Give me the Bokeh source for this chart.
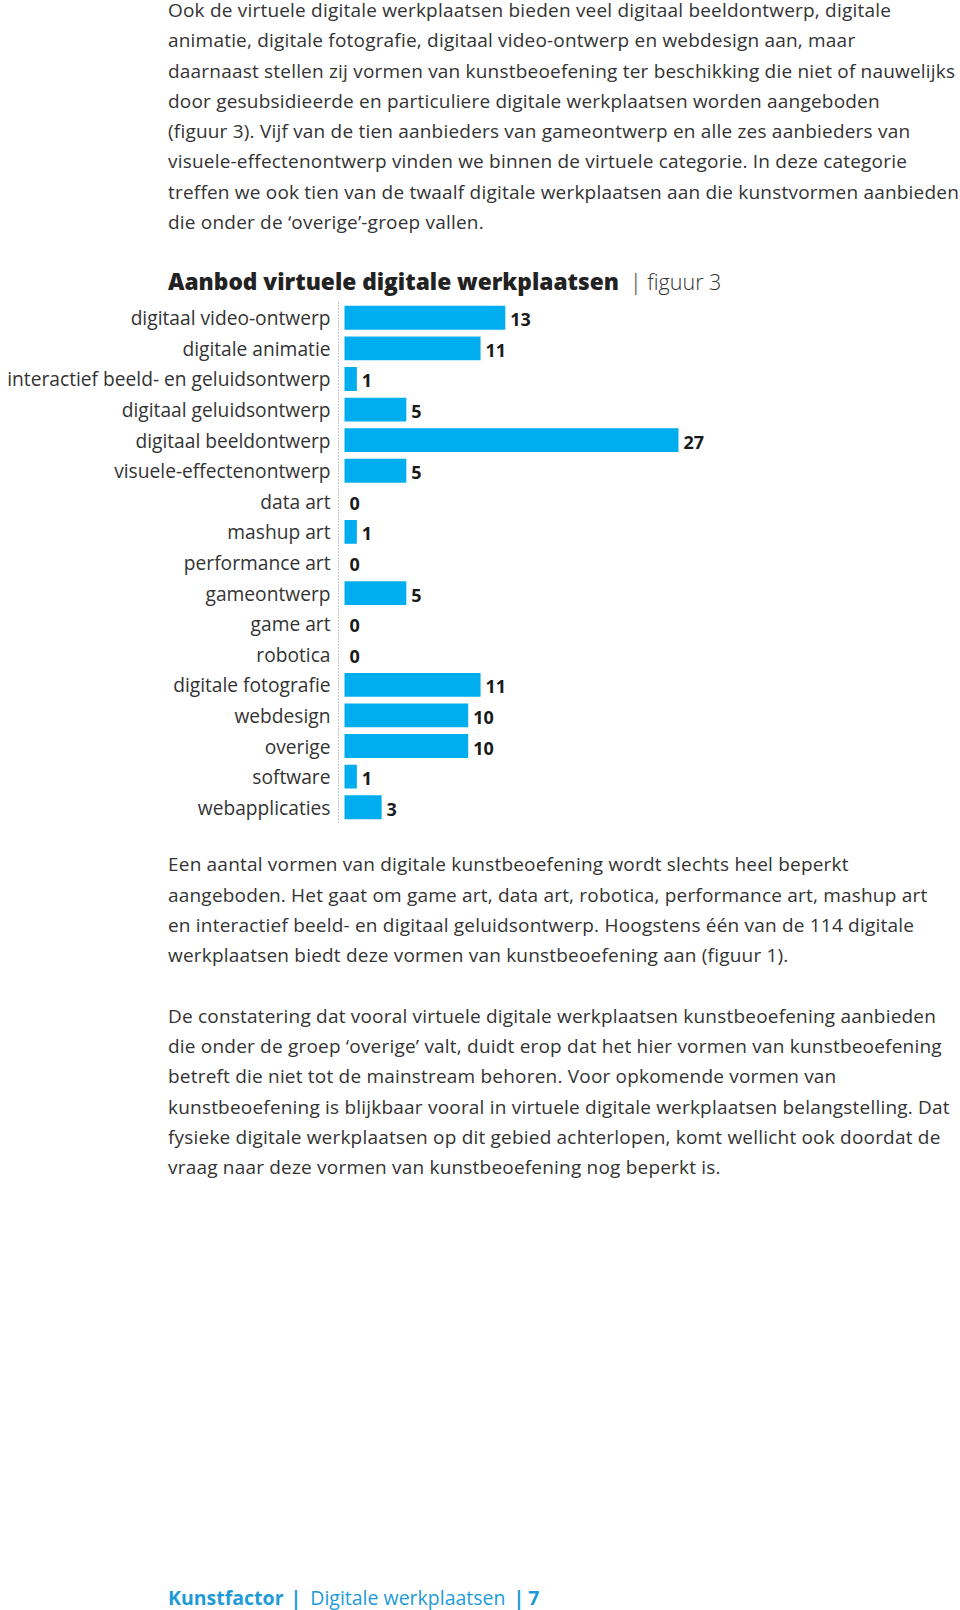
from bokeh.plotting import figure
from bokeh.models import ColumnDataSource, FactorRange, Range1d, Div
from bokeh.layouts import column
from bokeh.core.properties import value
from bokeh.embed import file_html
from bokeh.resources import INLINE

# ---- data ----
categories = ["digitaal video-ontwerp", "digitale animatie", "interactief beeld- en geluidsontwerp",
              "digitaal geluidsontwerp", "digitaal beeldontwerp", "visuele-effectenontwerp",
              "data art", "mashup art", "performance art", "gameontwerp", "game art", "robotica",
              "digitale fotografie", "webdesign", "overige", "software", "webapplicaties"]
counts = [13, 11, 1, 5, 27, 5, 0, 1, 0, 5, 0, 0, 11, 10, 10, 1, 3]

title_main = "Aanbod virtuele digitale werkplaatsen"
title_sub = "figuur 3"

para1 = [
    "Ook de virtuele digitale werkplaatsen bieden veel digitaal beeldontwerp, digitale",
    "animatie, digitale fotografie, digitaal video-ontwerp en webdesign aan, maar",
    "daarnaast stellen zij vormen van kunstbeoefening ter beschikking die niet of nauwelijks",
    "door gesubsidieerde en particuliere digitale werkplaatsen worden aangeboden",
    "(figuur 3). Vijf van de tien aanbieders van gameontwerp en alle zes aanbieders van",
    "visuele-effectenontwerp vinden we binnen de virtuele categorie. In deze categorie",
    "treffen we ook tien van de twaalf digitale werkplaatsen aan die kunstvormen aanbieden",
    "die onder de \u2018overige\u2019-groep vallen.",
]
para2 = [
    "Een aantal vormen van digitale kunstbeoefening wordt slechts heel beperkt",
    "aangeboden. Het gaat om game art, data art, robotica, performance art, mashup art",
    "en interactief beeld- en digitaal geluidsontwerp. Hoogstens \u00e9\u00e9n van de 114 digitale",
    "werkplaatsen biedt deze vormen van kunstbeoefening aan (figuur 1).",
    "",
    "De constatering dat vooral virtuele digitale werkplaatsen kunstbeoefening aanbieden",
    "die onder de groep \u2018overige\u2019 valt, duidt erop dat het hier vormen van kunstbeoefening",
    "betreft die niet tot de mainstream behoren. Voor opkomende vormen van",
    "kunstbeoefening is blijkbaar vooral in virtuele digitale werkplaatsen belangstelling. Dat",
    "fysieke digitale werkplaatsen op dit gebied achterlopen, komt wellicht ook doordat de",
    "vraag naar deze vormen van kunstbeoefening nog beperkt is.",
]
footer_parts = ["Kunstfactor", "Digitale werkplaatsen", "7"]

FONT = "Open Sans"
TXT = "#333333"
BLUE = "#00ADEE"
FOOT = "#1E9BD7"
FS = "19px"
LH = "30.3px"


def para_div(lines, height, mt):
    body = "<br>".join(l if l else "&nbsp;" for l in lines)
    html = (f'<div style="font-family:\'{FONT}\';font-size:{FS};letter-spacing:0.2px;line-height:{LH};color:{TXT};'
            f'white-space:nowrap;margin-top:{mt}px;padding-left:168px;">{body}</div>')
    return Div(text=html, width=960, height=height, margin=0)


div_a = para_div(para1, 262, -5.0)

div_b = Div(text=(f'<div style="white-space:nowrap;padding-left:168px;margin-top:0px;line-height:40px;">'
                  f'<span style="font-family:\'{FONT}\';font-weight:800;font-size:22.7px;color:#222;">{title_main}</span>'
                  f'<span style="font-family:\'{FONT}\';font-weight:300;font-size:21.5px;color:#333;">&nbsp;&nbsp;|&nbsp;{title_sub}</span></div>'),
            width=960, height=38, margin=0)

src = ColumnDataSource(dict(cat=categories, val=counts, lbl=[str(v) for v in counts]))

p = figure(width=960, height=530, y_range=FactorRange(*reversed(categories)),
           x_range=Range1d(-0.485, 49.8), output_backend="svg", toolbar_location=None,
           min_border_left=338, min_border_right=0, min_border_top=2, min_border_bottom=8,
           margin=0)
p.title.visible = False
p.outline_line_color = None
p.xgrid.visible = False
p.ygrid.visible = False
p.xaxis.visible = False
p.yaxis.major_tick_line_color = None
p.yaxis.minor_tick_line_color = None
p.yaxis.major_tick_out = 0
p.yaxis.major_tick_in = 0
p.yaxis.axis_line_color = "#888888"
p.yaxis.axis_line_dash = "1 2"
p.yaxis.axis_line_width = 1
p.yaxis.major_label_standoff = 8
p.yaxis.major_label_text_font = FONT
p.yaxis.major_label_text_font_size = "19.2px"
p.yaxis.major_label_text_color = TXT

p.hbar(y="cat", left=0, right="val", height=0.78, fill_color=BLUE, line_color=None, source=src)
p.text(x="val", y="cat", text="lbl", x_offset=5, y_offset=2, text_baseline="middle",
       text_font=value(FONT), text_font_style="bold", text_font_size="18px",
       text_color="#1a1a1a", source=src)

div_c = para_div(para2, 750, 19.4)

div_d = Div(text=(f'<div style="white-space:nowrap;padding-left:168px;margin-top:3px;line-height:30px;'
                  f'font-family:\'{FONT}\';font-size:19.5px;color:{FOOT};">'
                  f'<b>{footer_parts[0]}</b><b style="margin-left:7px;">|</b>'
                  f'<span style="margin-left:9px;">{footer_parts[1]}</span>'
                  f'<b style="margin-left:8px;">|</b><b style="margin-left:4px;">{footer_parts[2]}</b></div>'),
            width=960, height=30, margin=0)

layout = column(div_a, div_b, p, div_c, div_d, spacing=0, margin=0)
open("out.html", "w").write(file_html(layout, INLINE))
